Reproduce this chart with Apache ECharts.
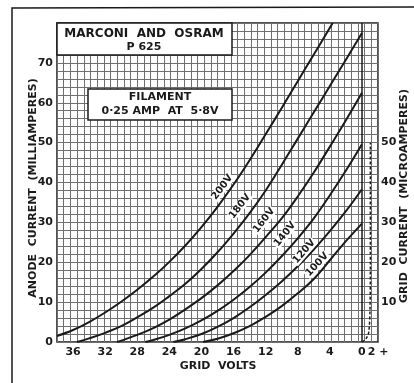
<!DOCTYPE html>
<html>
<head>
<meta charset="utf-8">
<title>P625</title>
<script src="https://cdn.jsdelivr.net/npm/echarts@6/dist/echarts.min.js"></script>
<style>
    html, body { margin: 0; padding: 0; background: #fff; }
    #chart { width: 414px; height: 383px; }
</style>
</head>
<body>
<div id="chart"></div>
<script>
// 曲线数据：栅压(V) / 阳极电流(mA)
var curveNames = ['200V', '180V', '160V', '140V', '120V', '100V'];

var volts200 = [-38, -36, -34, -32, -30, -28, -26, -24, -22, -20, -18, -16, -14, -12, -10, -8, -6, -4, -3.65];
var amps200  = [1.5, 3, 5, 7.4, 10.1, 13.1, 16.4, 20.1, 24.2, 28.8, 33.9, 39.5, 45.6, 52.1, 58.7, 65.4, 72.1, 78.8, 80];

var volts180 = [-35.5, -34, -32, -30, -28, -26, -24, -22, -20, -18, -16, -14, -12, -10, -8, -6, -4, -2, 0];
var amps180  = [0, 0.9, 2.3, 4, 6.2, 8.6, 11.5, 14.6, 18.3, 22.5, 27.2, 32.3, 38, 44.4, 51, 57.6, 64.2, 70.8, 77.5];

var volts160 = [-30.5, -28, -26, -24, -22, -20, -18, -16, -14, -12, -10, -8, -6, -4, -2, 0];
var amps160  = [0, 1.8, 3.5, 5.6, 8.2, 11, 14.2, 17.8, 21.8, 26.3, 31, 36.5, 42.5, 49, 55.6, 62.5];

var volts140 = [-27, -26, -24, -22, -20, -18, -16, -14, -12, -10, -8, -6, -4, -2, 0];
var amps140  = [0, 0.5, 1.8, 3.4, 5.4, 7.8, 10.6, 13.8, 17.4, 21.5, 26, 31, 36.8, 43, 49.6];

var volts120 = [-23.5, -22, -20, -18, -16, -14, -12, -10, -8, -6, -4, -2, 0];
var amps120  = [0, 0.7, 2, 3.8, 6, 8.7, 11.8, 15.2, 19, 23.2, 27.8, 32.8, 38.3];

var volts100 = [-19.8, -18, -16, -14, -12, -10, -8, -6, -4, -2, 0];
var amps100  = [0, 0.8, 2.2, 4, 6.3, 9, 12.2, 15.8, 20.5, 25.3, 29.7];

// 栅流 (µA)，虚线
var gridCurVolts = [0, 0.5, 0.85, 1.0, 1.05, 1.05];
var gridCurMicro = [0, 0.8, 2.5, 8, 20, 50];

// 曲线标注位置
var labelVolts = [-17.4, -15.2, -12.2, -9.6, -7.2, -5.6];
var labelAmps  = [38.8, 34, 30.5, 27, 22.7, 19.4];
var labelRot   = [53, 52, 52, 51, 49, 47];

var leftTicks  = [0, 10, 20, 30, 40, 50, 60, 70];
var rightTicks = [10, 20, 30, 40, 50];

var FONT = 'DejaVu Sans';
var INK = '#1a1a1a';
var PAPER = '#6e6e6e';

function pairs(xs, ys) {
    var out = [];
    for (var i = 0; i < xs.length; i++) {
        out.push([xs[i], ys[i]]);
    }
    return out;
}

var curveVolts = [volts200, volts180, volts160, volts140, volts120, volts100];
var curveAmps = [amps200, amps180, amps160, amps140, amps120, amps100];

var series = [];
for (var k = 0; k < curveNames.length; k++) {
    series.push({
        name: curveNames[k],
        type: 'line',
        smooth: 0.4,
        showSymbol: false,
        symbol: 'none',
        silent: true,
        clip: true,
        lineStyle: { color: INK, width: 2 },
        data: pairs(curveVolts[k], curveAmps[k]),
        markPoint: {
            symbol: 'circle',
            symbolSize: 0,
            silent: true,
            data: [{
                coord: [labelVolts[k], labelAmps[k]],
                label: {
                    show: true,
                    formatter: curveNames[k],
                    rotate: labelRot[k],
                    color: INK,
                    fontFamily: FONT,
                    fontWeight: 'bold',
                    fontSize: 10,
                    backgroundColor: '#fff',
                    padding: [0, 1]
                }
            }]
        }
    });
}

// 栅流曲线
series.push({
    name: 'grid',
    type: 'line',
    smooth: 0.3,
    showSymbol: false,
    symbol: 'none',
    silent: true,
    lineStyle: { color: INK, width: 1.5, type: [3, 2] },
    data: pairs(gridCurVolts, gridCurMicro),
    markLine: {
        silent: true,
        symbol: 'none',
        label: { show: false },
        lineStyle: { color: INK, width: 1.5, type: 'solid' },
        data: [{ xAxis: 0 }]
    }
});

var chart = echarts.init(document.getElementById('chart'));
var option = {
    animation: false,
    backgroundColor: '#fff',
    grid: {
        left: 57, top: 23, right: 36, bottom: 41,
        show: true,
        borderColor: INK,
        borderWidth: 1.5,
        backgroundColor: '#fff'
    },
    xAxis: [{
        type: 'value',
        min: -38,
        max: 2,
        interval: 2,
        axisLine: { show: false },
        axisTick: { show: false },
        splitLine: { show: false },
        axisLabel: {
            showMaxLabel: true,
            showMinLabel: true,
            margin: 5,
            color: INK,
            fontFamily: FONT,
            fontWeight: 'bold',
            fontSize: 11,
            formatter: function (v) {
                if (v === 2) return '2 +';
                if (v % 4 === 0 && v >= -36) return String(Math.abs(v));
                return '';
            }
        }
    }, {
        // 网格纸竖线
        type: 'value',
        min: 0,
        max: 48,
        interval: 1,
        position: 'top',
        axisLine: { show: false },
        axisTick: { show: false },
        axisLabel: { show: false },
        splitLine: { show: true, lineStyle: { color: PAPER, width: 1 } }
    }],
    yAxis: [{
        type: 'value',
        min: 0,
        max: 80,
        interval: 2,
        axisLine: { show: false },
        axisTick: { show: false },
        splitLine: { show: true, lineStyle: { color: PAPER, width: 1 } },
        axisLabel: {
            margin: 4,
            color: INK,
            fontFamily: FONT,
            fontWeight: 'bold',
            fontSize: 11,
            formatter: function (v) {
                return leftTicks.indexOf(v) >= 0 ? String(v) : '';
            }
        }
    }, {
        type: 'value',
        min: 0,
        max: 80,
        interval: 2,
        position: 'right',
        axisLine: { show: false },
        axisTick: { show: false },
        splitLine: { show: false },
        axisLabel: {
            margin: 3,
            color: INK,
            fontFamily: FONT,
            fontWeight: 'bold',
            fontSize: 11,
            formatter: function (v) {
                return rightTicks.indexOf(v) >= 0 ? String(v) : '';
            }
        }
    }],
    series: series,
    graphic: [
        // 外框
        { type: 'polyline', silent: true, shape: { points: [[12, 383], [12, 8], [414, 7]] },
          style: { stroke: INK, lineWidth: 1.5, fill: null } },
        // 标题框
        { type: 'rect', silent: true, z: 100, shape: { x: 57, y: 23, width: 175, height: 32 },
          style: { fill: '#fff', stroke: INK, lineWidth: 1.5 } },
        { type: 'text', silent: true, z: 101, x: 144, y: 34,
          style: { text: 'MARCONI  AND  OSRAM', fill: INK, font: 'bold 12px ' + FONT, textAlign: 'center', textVerticalAlign: 'middle' } },
        { type: 'text', silent: true, z: 101, x: 144, y: 47,
          style: { text: 'P 625', fill: INK, font: 'bold 11px ' + FONT, textAlign: 'center', textVerticalAlign: 'middle' } },
        // 灯丝框
        { type: 'rect', silent: true, z: 100, shape: { x: 88, y: 89, width: 144, height: 31 },
          style: { fill: '#fff', stroke: INK, lineWidth: 1.5 } },
        { type: 'text', silent: true, z: 101, x: 160, y: 97,
          style: { text: 'FILAMENT', fill: INK, font: 'bold 11px ' + FONT, textAlign: 'center', textVerticalAlign: 'middle' } },
        { type: 'text', silent: true, z: 101, x: 160, y: 111,
          style: { text: '0·25 AMP  AT  5·8V', fill: INK, font: 'bold 11px ' + FONT, textAlign: 'center', textVerticalAlign: 'middle' } },
        // 坐标轴名称
        { type: 'text', silent: true, x: 218, y: 366,
          style: { text: 'GRID  VOLTS', fill: INK, font: 'bold 11px ' + FONT, textAlign: 'center', textVerticalAlign: 'middle' } },
        { type: 'text', silent: true, x: 33, y: 188, rotation: Math.PI / 2,
          style: { text: 'ANODE  CURRENT  (MILLIAMPERES)', fill: INK, font: 'bold 11px ' + FONT, textAlign: 'center', textVerticalAlign: 'middle' } },
        { type: 'text', silent: true, x: 404, y: 196, rotation: Math.PI / 2,
          style: { text: 'GRID  CURRENT  (MICROAMPERES)', fill: INK, font: 'bold 11px ' + FONT, textAlign: 'center', textVerticalAlign: 'middle' } }
    ]
};
chart.setOption(option);
</script>
</body>
</html>
